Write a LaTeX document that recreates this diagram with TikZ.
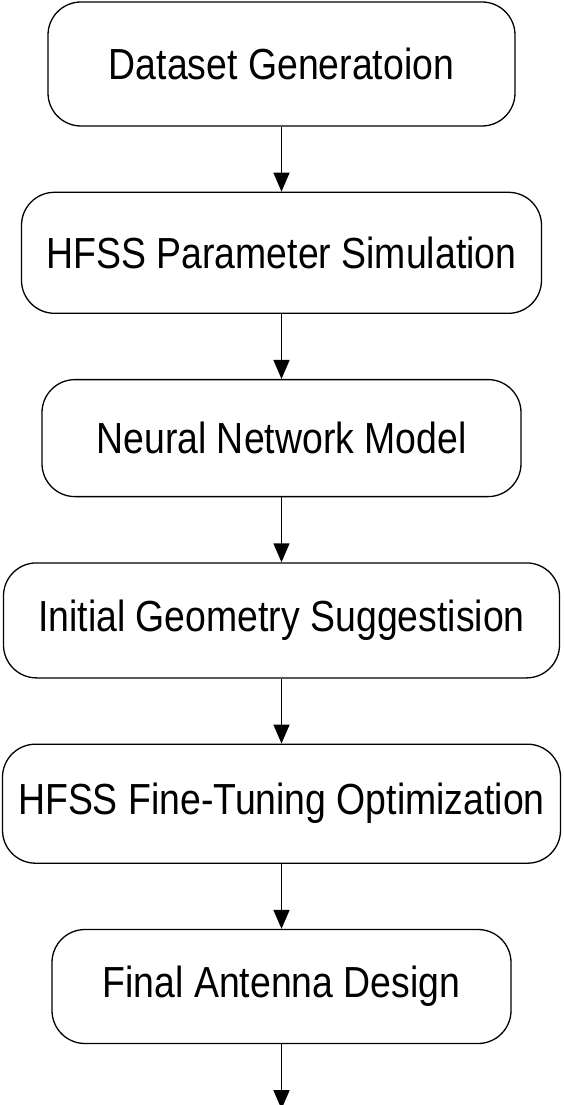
\documentclass[tikz,border=0pt]{standalone}
\usepackage{fontspec}
\setmainfont{Liberation Sans}[FakeStretch=0.86]
\usetikzlibrary{arrows.meta, positioning}

\begin{document}
\begin{tikzpicture}[
            x=1pt, y=1pt,
            node distance=65pt,
            stage/.style={rectangle, draw, line width=1.3pt, rounded corners=33pt, align=center, inner sep=0pt, font=\fontsize{43.5}{50}\selectfont},
            arrow/.style={line width=1.5pt, -{Triangle[length=19pt, width=16pt]}}
          ]
  \useasboundingbox (0,0) rectangle (563,-1105);

          % Nodos
          \node (dataset) [stage, minimum width=467pt, minimum height=124pt] at (281.5,-64) {Dataset Generatoion};
          \node (hfsssim) [stage, minimum width=520pt, minimum height=121pt, below=of dataset] {HFSS Parameter Simulation};
          \node (network) [stage, minimum width=479pt, minimum height=117pt, below=of hfsssim] {Neural Network Model};
          \node (geometry) [stage, minimum width=556pt, minimum height=115pt, below=of network] {Initial Geometry Suggestision};
          \node (tuning) [stage, minimum width=558pt, minimum height=119pt, below=of geometry] {HFSS Fine-Tuning Optimization};
          \node (design) [stage, minimum width=459pt, minimum height=114pt, below=of tuning] {Final Antenna Design};
          \coordinate [below=of design] (out);

          % Conexiones
          \draw [arrow] (dataset) -- (hfsssim);
          \draw [arrow] (hfsssim) -- (network);
          \draw [arrow] (network) -- (geometry);
          \draw [arrow] (geometry) -- (tuning);
          \draw [arrow] (tuning) -- (design);
          \draw [arrow] (design) -- (out);

        \end{tikzpicture}
\end{document}
